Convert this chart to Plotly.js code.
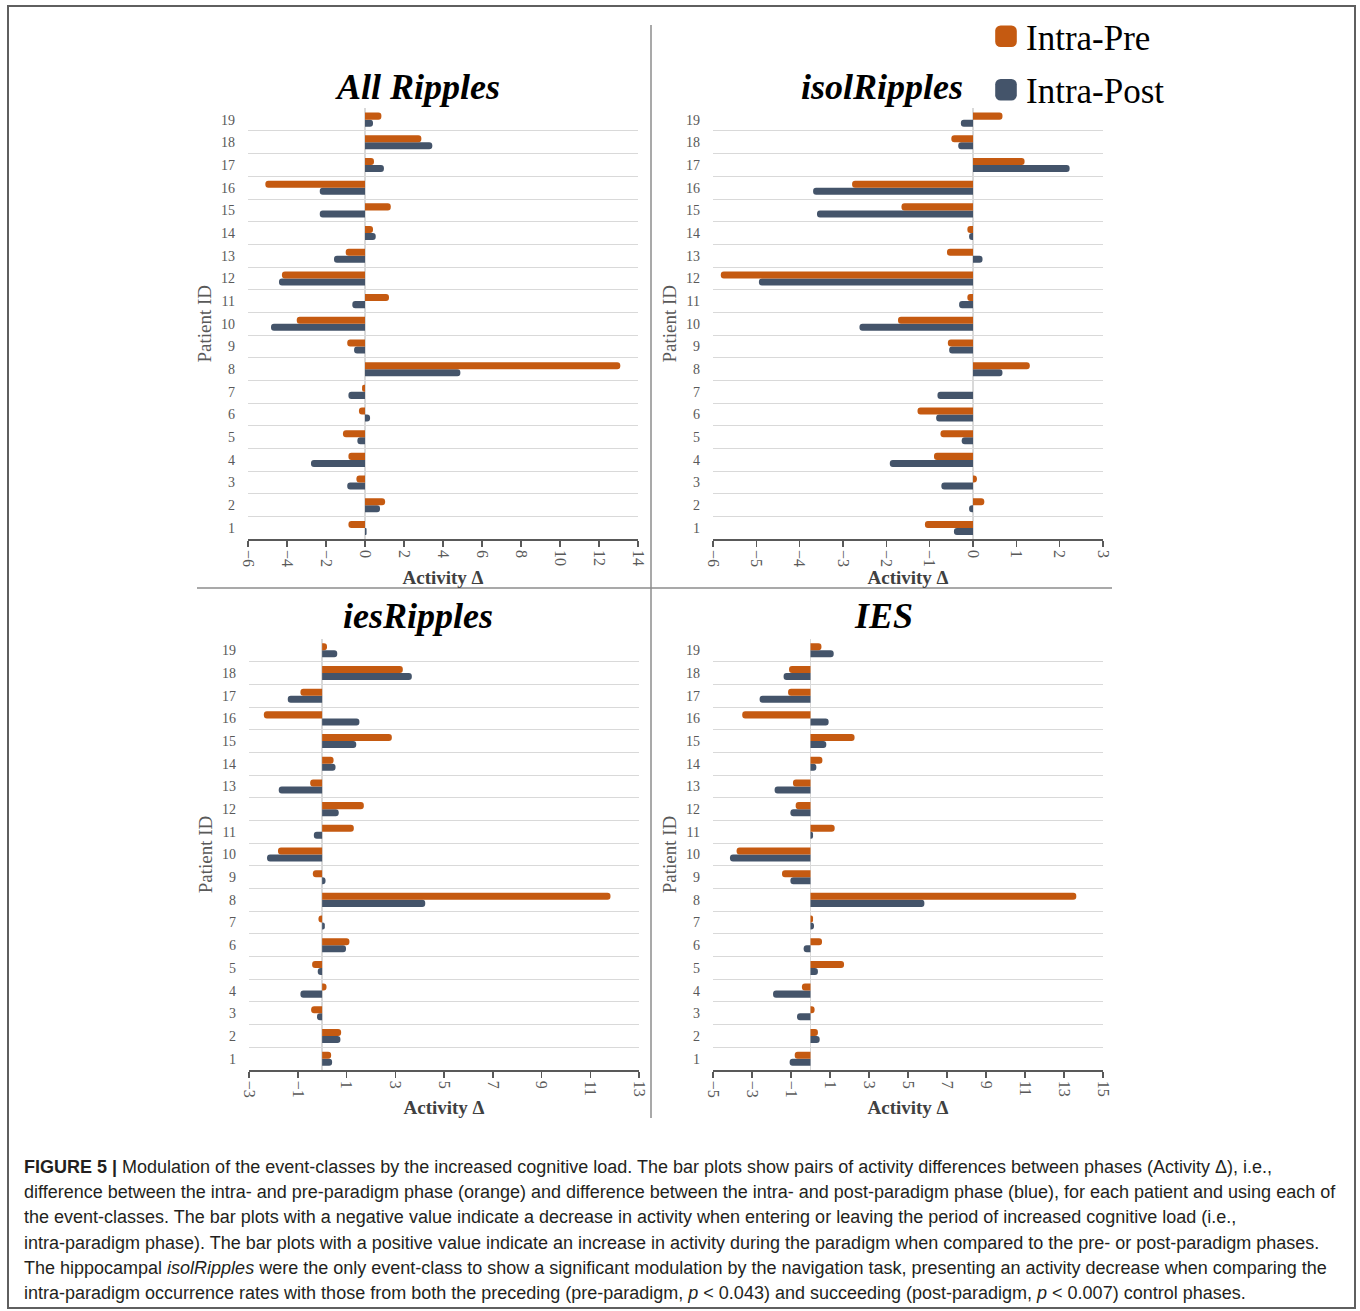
<!DOCTYPE html>
<html>
<head>
<meta charset="utf-8">
<script src="https://cdn.plot.ly/plotly-3.0.1.min.js"></script>
<style>
  html, body { margin: 0; padding: 0; background: #ffffff; }
  #chart { width: 1360px; height: 1311px; }
</style>
</head>
<body>
<div id="chart"></div>
<script>
// ---------- DATA ----------
const patients = ["1","2","3","4","5","6","7","8","9","10","11","12","13","14","15","16","17","18","19"];

const seriesNames = ["Intra-Pre", "Intra-Post"];
const panelTitles = ["All Ripples", "isolRipples", "iesRipples", "IES"];

// All Ripples
const allPre  = [-0.85, 1.03, -0.44, -0.85, -1.13, -0.31, -0.15, 13.09, -0.91, -3.50, 1.23, -4.26, -0.99, 0.41, 1.32, -5.11, 0.46, 2.89, 0.84];
const allPost = [0.08, 0.77, -0.91, -2.77, -0.39, 0.26, -0.85, 4.89, -0.56, -4.82, -0.65, -4.41, -1.59, 0.55, -2.32, -2.32, 0.97, 3.45, 0.41];

// isolRipples
const isolPre  = [-1.11, 0.26, 0.09, -0.90, -0.75, -1.28, 0, 1.31, -0.58, -1.73, -0.13, -5.82, -0.60, -0.13, -1.65, -2.79, 1.19, -0.50, 0.68];
const isolPost = [-0.44, -0.09, -0.73, -1.92, -0.26, -0.85, -0.82, 0.68, -0.55, -2.62, -0.32, -4.94, 0.22, -0.09, -3.60, -3.69, 2.23, -0.34, -0.28];

// iesRipples
const iesPre  = [0.37, 0.78, -0.45, 0.18, -0.41, 1.12, -0.15, 11.83, -0.38, -1.81, 1.30, 1.71, -0.49, 0.47, 2.86, -2.39, -0.89, 3.31, 0.20];
const iesPost = [0.41, 0.75, -0.21, -0.89, -0.18, 0.98, 0.11, 4.23, 0.14, -2.26, -0.34, 0.68, -1.78, 0.55, 1.40, 1.53, -1.41, 3.68, 0.62];

// IES
const iesEvPre  = [-0.81, 0.38, 0.21, -0.44, 1.72, 0.59, 0.13, 13.63, -1.46, -3.79, 1.24, -0.76, -0.90, 0.61, 2.26, -3.50, -1.15, -1.10, 0.56];
const iesEvPost = [-1.07, 0.47, -0.69, -1.92, 0.38, -0.35, 0.18, 5.84, -1.03, -4.13, 0.13, -1.03, -1.84, 0.30, 0.81, 0.93, -2.61, -1.38, 1.19];

// x-axis tick setups per panel
const xRanges = [[-6, 14], [-6, 3], [-3, 13], [-5, 15]];
const xDticks = [2, 1, 2, 2];
const xTick0  = [0, 0, -3, -5];

const axisTitleX = "Activity Δ";
const axisTitleY = "Patient ID";

const captionLines = [
  "<b>FIGURE 5 |</b> Modulation of the event-classes by the increased cognitive load. The bar plots show pairs of activity differences between phases (Activity Δ), i.e.,",
  "difference between the intra- and pre-paradigm phase (orange) and difference between the intra- and post-paradigm phase (blue), for each patient and using each of",
  "the event-classes. The bar plots with a negative value indicate a decrease in activity when entering or leaving the period of increased cognitive load (i.e.,",
  "intra-paradigm phase). The bar plots with a positive value indicate an increase in activity during the paradigm when compared to the pre- or post-paradigm phases.",
  "The hippocampal <i>isolRipples</i> were the only event-class to show a significant modulation by the navigation task, presenting an activity decrease when comparing the",
  "intra-paradigm occurrence rates with those from both the preceding (pre-paradigm, <i>p</i> &lt; 0.043) and succeeding (post-paradigm, <i>p</i> &lt; 0.007) control phases."
];

// ---------- STYLE ----------
const W = 1360, H = 1311;
const ORANGE = "#C55A11";
const BLUE = "#44546A";
const GRAY = "#595959";
const SERIF = "Liberation Serif, Times New Roman, serif";
const SANS = "Liberation Sans, Arial, sans-serif";

const px = v => v / W;
const py = v => 1 - v / H;

const preSets  = [allPre, isolPre, iesPre, iesEvPre];
const postSets = [allPost, isolPost, iesPost, iesEvPost];

// plot areas in pixels: [x0, x1, yTop, yBottom]
const areas = [
  [248, 638, 108.3, 539.3],
  [713, 1103, 108.3, 539.3],
  [249, 639, 639, 1070],
  [713, 1103, 639, 1070]
];
const titleCenters = [[417, 87], [882, 87], [418, 616], [883, 616]];

const traces = [];
const layout = {
  width: W, height: H,
  margin: {l: 0, r: 0, t: 0, b: 0},
  paper_bgcolor: "#ffffff",
  plot_bgcolor: "rgba(0,0,0,0)",
  barmode: "group",
  bargap: 0.38,
  bargroupgap: 0,
  showlegend: true,
  legend: {
    x: px(986), xanchor: "left",
    y: py(7), yanchor: "top",
    font: {family: SERIF, size: 35, color: "#000000"},
    bgcolor: "rgba(0,0,0,0)",
    borderwidth: 0,
    tracegroupgap: 5,
    traceorder: "grouped"
  },
  font: {family: SERIF, color: GRAY},
  annotations: [],
  shapes: []
};

for (let i = 0; i < 4; i++) {
  const k = i === 0 ? "" : String(i + 1);
  const xa = "x" + k, ya = "y" + k;
  // Intra-Post first so it sits below Intra-Pre within each category
  traces.push({
    type: "bar", orientation: "h",
    name: seriesNames[1],
    x: postSets[i], y: patients,
    xaxis: xa, yaxis: ya,
    marker: {color: BLUE, cornerradius: 3},
    legendgroup: "post", legendrank: 2,
    showlegend: i === 0,
    hoverinfo: "x+y+name"
  });
  traces.push({
    type: "bar", orientation: "h",
    name: seriesNames[0],
    x: preSets[i], y: patients,
    xaxis: xa, yaxis: ya,
    marker: {color: ORANGE, cornerradius: 3},
    legendgroup: "pre", legendrank: 1,
    showlegend: i === 0,
    hoverinfo: "x+y+name"
  });

  const a = areas[i];
  const tickCommon = {
    tickmode: "linear", tick0: xTick0[i], dtick: xDticks[i],
    ticklen: 6, tickwidth: 1.5, tickcolor: GRAY
  };
  layout["xaxis" + k] = Object.assign({
    domain: [px(a[0]), px(a[1])],
    anchor: ya,
    range: xRanges[i],
    tickangle: 90,
    showgrid: false,
    zeroline: true, zerolinecolor: "#d9d9d9", zerolinewidth: 1.5,
    showline: true, linecolor: GRAY, linewidth: 1.5,
    ticks: "outside",
    tickfont: {family: SERIF, size: 16, color: GRAY},
    automargin: false,
    fixedrange: true,
    title: {text: "<b>" + axisTitleX + "</b>", font: {family: SERIF, size: 19, color: "#404040"}, standoff: 4}
  }, tickCommon);
  // companion axis drawing the inner half of each crossing tick mark
  layout["xaxis" + (i + 5)] = Object.assign({
    domain: [px(a[0]), px(a[1])],
    anchor: ya,
    overlaying: xa,
    range: xRanges[i],
    ticks: "inside",
    showticklabels: false,
    showgrid: false, zeroline: false, showline: false,
    fixedrange: true
  }, tickCommon);
  layout["yaxis" + k] = {
    domain: [py(a[3]), py(a[2])],
    anchor: xa,
    type: "category",
    categoryorder: "array", categoryarray: patients,
    tickson: "boundaries",
    showgrid: true, gridcolor: "#d9d9d9", gridwidth: 1,
    zeroline: false,
    showline: false,
    ticks: "",
    ticklabelstandoff: 12,
    tickfont: {family: SERIF, size: 14, color: GRAY},
    automargin: false,
    fixedrange: true,
    title: {text: axisTitleY, font: {family: SERIF, size: 19, color: GRAY}, standoff: 4}
  };

  layout.annotations.push({
    xref: "paper", yref: "paper",
    x: px(titleCenters[i][0]), y: py(titleCenters[i][1]),
    xanchor: "center", yanchor: "middle",
    text: "<b><i>" + panelTitles[i] + "</i></b>",
    showarrow: false,
    font: {family: SERIF, size: 36, color: "#000000"}
  });
}

// caption lines
const capY = [1167, 1192, 1217, 1243, 1268, 1293];
captionLines.forEach((t, j) => {
  layout.annotations.push({
    xref: "paper", yref: "paper",
    x: px(22), y: py(capY[j]),
    xanchor: "left", yanchor: "middle",
    text: t, showarrow: false, align: "left",
    font: {family: SANS, size: 18, color: "#231f20"}
  });
});

// frame and dividers
layout.shapes.push(
  {type: "rect", xref: "paper", yref: "paper", x0: px(8), x1: px(1355), y0: py(1308), y1: py(6),
   line: {color: "#5f5f5f", width: 2}, fillcolor: "rgba(0,0,0,0)", layer: "below"},
  {type: "line", xref: "paper", yref: "paper", x0: px(651), x1: px(651), y0: py(25), y1: py(1118),
   line: {color: "#8c8c8c", width: 1.5}},
  {type: "line", xref: "paper", yref: "paper", x0: px(197), x1: px(1112), y0: py(588), y1: py(588),
   line: {color: "#8c8c8c", width: 1.5}}
);

Plotly.newPlot("chart", traces, layout, {staticPlot: true, displayModeBar: false}).then(gd => {
  // enlarge the legend swatches to match the reference's large square keys
  gd.querySelectorAll(".legend .legendpoints path").forEach(p => {
    const t = p.getAttribute("transform") || "";
    p.setAttribute("transform", t + " scale(1.8)");
  });
});
</script>
</body>
</html>
